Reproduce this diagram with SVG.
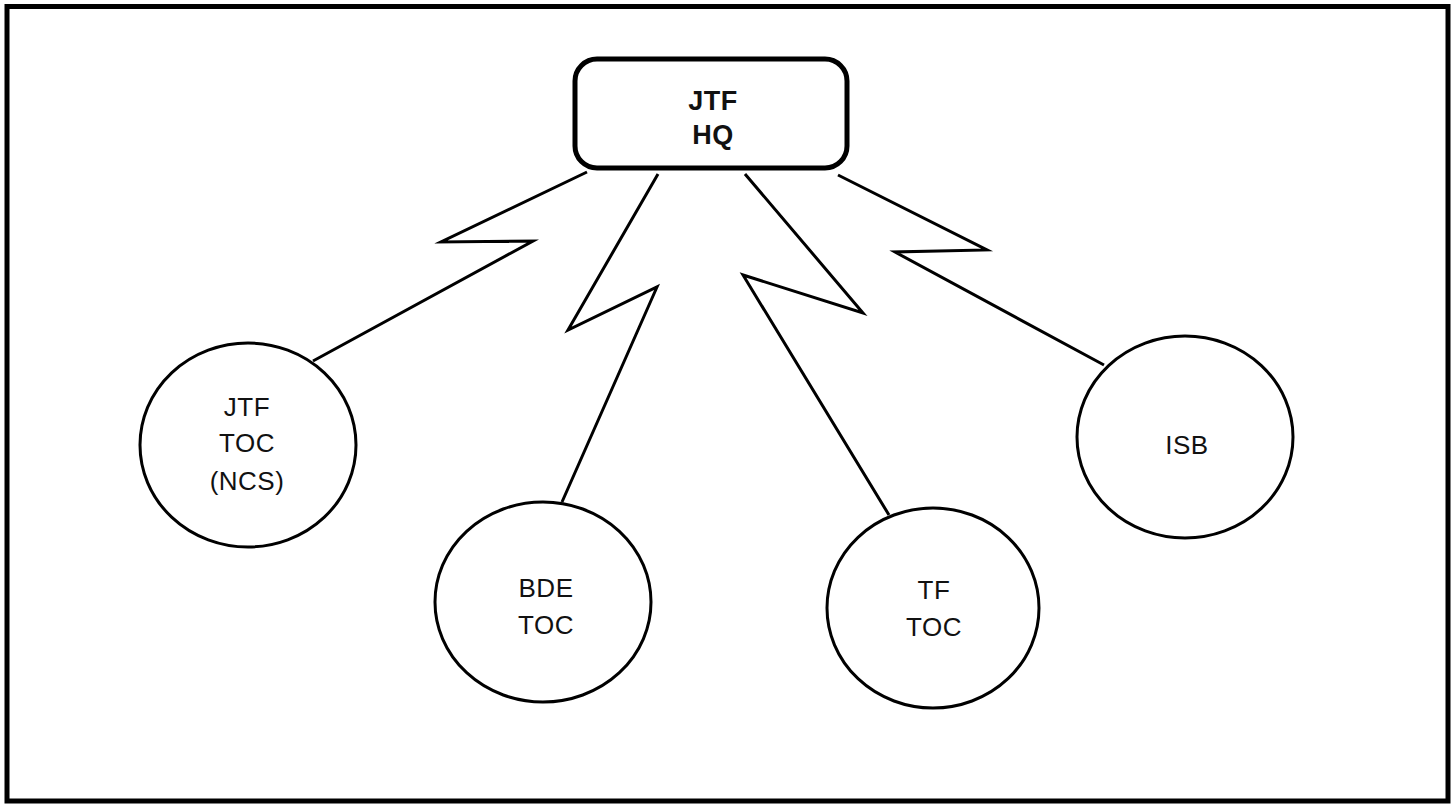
<svg xmlns="http://www.w3.org/2000/svg" width="1454" height="805" viewBox="0 0 1454 805">
<style>
.node{fill:#fff;stroke:#000;stroke-width:3}
.hq{fill:#fff;stroke:#000;stroke-width:5}
.link{fill:none;stroke:#000;stroke-width:3;stroke-linejoin:miter;stroke-miterlimit:20}
.t{font-family:"Liberation Sans",Arial,sans-serif;font-size:26px;fill:#111;text-anchor:middle;letter-spacing:0.5px}
.tb{font-weight:bold;font-size:27px}
</style>
<rect x="0" y="0" width="1454" height="805" fill="#fff"/>
<rect x="7" y="6.5" width="1441" height="794.5" fill="none" stroke="#000" stroke-width="5"/>
<g id="connectors">
<polyline class="link" points="587,172 441,242 533,241 313,361"/>
<polyline class="link" points="658,174 568,330 657,287 562,502"/>
<polyline class="link" points="745,174 863,313 743,275 889,515"/>
<polyline class="link" points="838,175 987,250 895,252 1104,365"/>
</g>
<g id="jtf-hq">
<rect class="hq" x="575" y="59" width="272" height="109" rx="22" ry="22"/>
<text class="t tb" x="713" y="110">JTF</text>
<text class="t tb" x="713" y="144">HQ</text>
</g>
<g id="jtf-toc">
<ellipse class="node" cx="248" cy="445" rx="108" ry="102"/>
<text class="t" x="247" y="416">JTF</text>
<text class="t" x="247" y="452">TOC</text>
<text class="t" x="247" y="490">(NCS)</text>
</g>
<g id="bde-toc">
<ellipse class="node" cx="543" cy="602" rx="108" ry="100"/>
<text class="t" x="546" y="597">BDE</text>
<text class="t" x="546" y="634">TOC</text>
</g>
<g id="tf-toc">
<ellipse class="node" cx="933" cy="608" rx="106" ry="100"/>
<text class="t" x="934" y="599">TF</text>
<text class="t" x="934" y="636">TOC</text>
</g>
<g id="isb">
<ellipse class="node" cx="1185" cy="437" rx="108" ry="101"/>
<text class="t" x="1187" y="454">ISB</text>
</g>
</svg>
